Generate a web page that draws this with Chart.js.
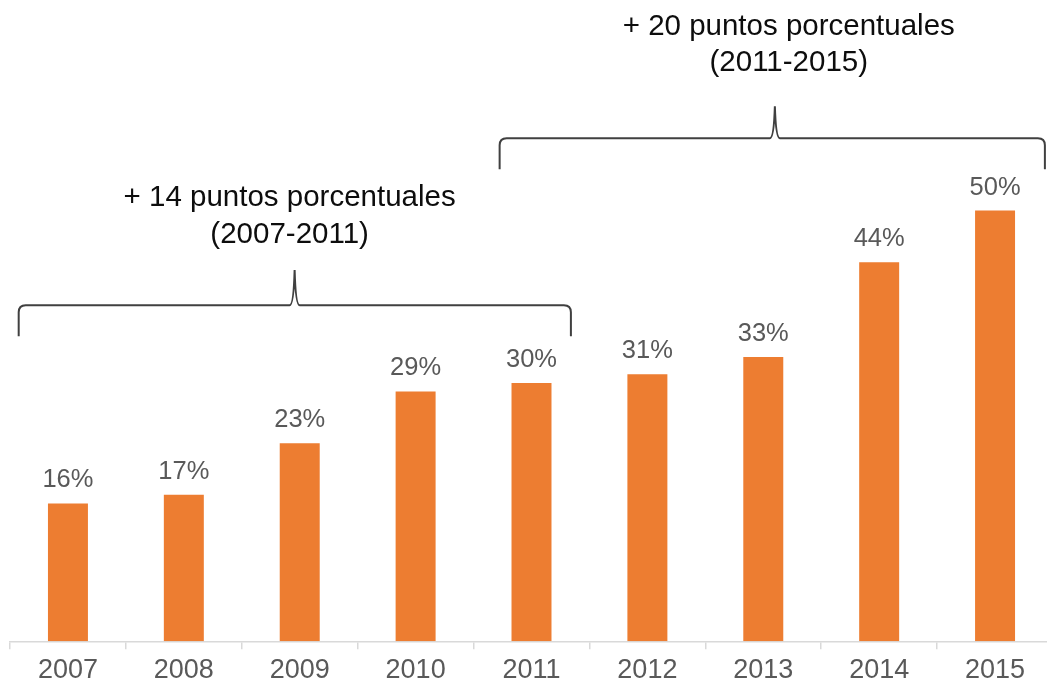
<!DOCTYPE html>
<html>
<head>
<meta charset="utf-8">
<script src="https://cdn.jsdelivr.net/npm/chart.js@4/dist/chart.umd.min.js"></script>
<style>
  html, body { margin: 0; padding: 0; background: #fff; overflow: hidden; }
  #wrap { position: relative; width: 1053px; height: 691px; }
</style>
</head>
<body>
<div id="wrap"><canvas id="chart"></canvas></div>
<script>
const years = ["2007", "2008", "2009", "2010", "2011", "2012", "2013", "2014", "2015"];
const shares = [16, 17, 23, 29, 30, 31, 33, 44, 50];

// braces above the bars, in category index / value units
const braceStart = [-0.425, 3.725];
const braceEnd = [4.34, 8.43];
const bracePeakX = [1.956, 6.1];
const braceEndY = [35.4, 54.8];
const braceBarY = [39, 58.4];
const bracePeakY = [43.1, 62.1];

// annotation texts
const noteLines = [
  ["+ 14 puntos porcentuales", "(2007-2011)"],
  ["+ 20 puntos porcentuales", "(2011-2015)"]
];
const noteX = [1.913, 6.22];
const noteY = [[51.5, 47.2], [71.3, 67.1]];

const FONT = '"Liberation Sans", Arial, sans-serif';

const labelPlugin = {
  id: "barLabels",
  afterDatasetsDraw(chart) {
    const ctx = chart.ctx;
    const meta = chart.getDatasetMeta(0);
    ctx.save();
    ctx.font = "25.5px " + FONT;
    ctx.fillStyle = "#595959";
    ctx.textAlign = "center";
    ctx.textBaseline = "alphabetic";
    meta.data.forEach((bar, i) => {
      ctx.fillText(shares[i] + "%", bar.x, bar.y - 16);
    });
    ctx.restore();
  }
};

const bracePlugin = {
  id: "braces",
  afterDraw(chart) {
    const ctx = chart.ctx;
    const xs = chart.scales.x;
    const ys = chart.scales.y;
    ctx.save();
    ctx.strokeStyle = "#404040";
    ctx.lineWidth = 2;
    for (let i = 0; i < braceStart.length; i++) {
      const x0 = xs.getPixelForValue(braceStart[i]);
      const x1 = xs.getPixelForValue(braceEnd[i]);
      const xm = xs.getPixelForValue(bracePeakX[i]);
      const yE = ys.getPixelForValue(braceEndY[i]);
      const yB = ys.getPixelForValue(braceBarY[i]);
      const yP = ys.getPixelForValue(bracePeakY[i]);
      const r = 7;
      const c = 5;
      ctx.beginPath();
      ctx.moveTo(x0, yE);
      ctx.lineTo(x0, yB + r);
      ctx.quadraticCurveTo(x0, yB, x0 + r, yB);
      ctx.lineTo(xm - c, yB);
      ctx.quadraticCurveTo(xm - 1, yB, xm, yP);
      ctx.quadraticCurveTo(xm + 1, yB, xm + c, yB);
      ctx.lineTo(x1 - r, yB);
      ctx.quadraticCurveTo(x1, yB, x1, yB + r);
      ctx.lineTo(x1, yE);
      ctx.stroke();
    }
    ctx.font = "29.5px " + FONT;
    ctx.fillStyle = "#0d0d0d";
    ctx.textAlign = "center";
    ctx.textBaseline = "middle";
    noteLines.forEach((lines, i) => {
      const x = xs.getPixelForValue(noteX[i]);
      lines.forEach((txt, j) => {
        ctx.fillText(txt, x, ys.getPixelForValue(noteY[i][j]));
      });
    });
    ctx.restore();
  }
};

new Chart(document.getElementById("chart").getContext("2d"), {
  type: "bar",
  data: {
    labels: years,
    datasets: [
      {
        data: shares,
        backgroundColor: "#ED7D31",
        borderWidth: 0,
        barPercentage: 0.345,
        categoryPercentage: 1
      }
    ]
  },
  options: {
    responsive: true,
    maintainAspectRatio: false,
    animation: false,
    layout: { padding: { left: 10, right: 0, top: 0, bottom: 0 } },
    plugins: {
      legend: { display: false },
      tooltip: { enabled: false }
    },
    scales: {
      x: {
        grid: {
          display: true,
          drawOnChartArea: false,
          drawTicks: true,
          tickLength: 8,
          color: "#d9d9d9",
          lineWidth: 1.5
        },
        border: { display: true, color: "#d9d9d9", width: 1.5 },
        ticks: {
          color: "#595959",
          padding: 6,
          font: { family: FONT, size: 27, lineHeight: 1.1 },
          maxRotation: 0
        }
      },
      y: {
        display: false,
        min: 0,
        max: 74.45
      }
    }
  },
  plugins: [labelPlugin, bracePlugin]
});
</script>
</body>
</html>
